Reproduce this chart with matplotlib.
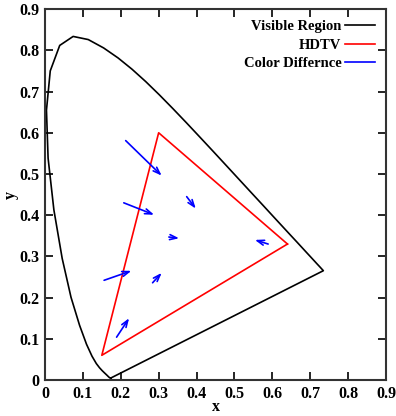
import matplotlib
matplotlib.use("Agg")
import matplotlib.pyplot as plt

plt.rcParams['font.family'] = ['Liberation Serif', 'DejaVu Serif']
plt.rcParams['font.weight'] = 'bold'

# CIE 1931 spectral locus (380-700 nm, 5 nm)
locus_x = [0.1741, 0.1740, 0.1738, 0.1736, 0.1733, 0.1730, 0.1726, 0.1721, 0.1714,
           0.1703, 0.1689, 0.1669, 0.1644, 0.1611, 0.1566, 0.1510, 0.1440, 0.1355,
           0.1241, 0.1096, 0.0913, 0.0687, 0.0454, 0.0235, 0.0082, 0.0039, 0.0139,
           0.0389, 0.0743, 0.1142, 0.1547, 0.1929, 0.2296, 0.2658, 0.3016, 0.3373,
           0.3731, 0.4087, 0.4441, 0.4788, 0.5125, 0.5448, 0.5752, 0.6029, 0.6270,
           0.6482, 0.6658, 0.6801, 0.6915, 0.7006, 0.7079, 0.7140, 0.7190, 0.7230,
           0.7260, 0.7283, 0.7300, 0.7311, 0.7320, 0.7327, 0.7334, 0.7340, 0.7344,
           0.7346, 0.7347]
locus_y = [0.0050, 0.0050, 0.0049, 0.0049, 0.0048, 0.0048, 0.0048, 0.0048, 0.0051,
           0.0058, 0.0069, 0.0086, 0.0109, 0.0138, 0.0177, 0.0227, 0.0297, 0.0399,
           0.0578, 0.0868, 0.1327, 0.2007, 0.2950, 0.4127, 0.5384, 0.6548, 0.7502,
           0.8120, 0.8338, 0.8262, 0.8059, 0.7816, 0.7543, 0.7243, 0.6923, 0.6589,
           0.6245, 0.5896, 0.5547, 0.5202, 0.4866, 0.4544, 0.4242, 0.3965, 0.3725,
           0.3514, 0.3340, 0.3197, 0.3083, 0.2993, 0.2920, 0.2859, 0.2809, 0.2770,
           0.2740, 0.2717, 0.2700, 0.2689, 0.2680, 0.2673, 0.2666, 0.2660, 0.2656,
           0.2654, 0.2653]

# HDTV primaries (R, G, B)
hdtv_x = [0.64, 0.30, 0.15]
hdtv_y = [0.33, 0.60, 0.06]

# color difference arrows: start -> end
arr_x0 = [0.213, 0.208, 0.374, 0.327, 0.156, 0.284, 0.189, 0.589]
arr_y0 = [0.581, 0.430, 0.445, 0.347, 0.242, 0.236, 0.104, 0.330]
arr_x1 = [0.308, 0.288, 0.398, 0.354, 0.228, 0.308, 0.222, 0.554]
arr_y1 = [0.496, 0.401, 0.416, 0.344, 0.265, 0.260, 0.150, 0.340]

fig = plt.figure(figsize=(3.96, 4.16), dpi=100)
ax = fig.add_axes([0.1136, 0.0865, 0.8611, 0.8915])

ax.plot(locus_x + [locus_x[0]], locus_y + [locus_y[0]], color='black', lw=1.2,
        label='Visible Region')
ax.plot(hdtv_x + [hdtv_x[0]], hdtv_y + [hdtv_y[0]], color='red', lw=1.2, label='HDTV')
ax.plot([], [], color='blue', lw=1.2, label='Color Differnce')

for x0, y0, x1, y1 in zip(arr_x0, arr_y0, arr_x1, arr_y1):
    ax.annotate('', xy=(x1, y1), xytext=(x0, y0),
                arrowprops=dict(arrowstyle='->,head_length=0.5,head_width=0.18',
                                color='blue', lw=1.2, shrinkA=0, shrinkB=0))

ax.set_xlim(0, 0.9)
ax.set_ylim(0, 0.9)
ticks = [0, 0.1, 0.2, 0.3, 0.4, 0.5, 0.6, 0.7, 0.8, 0.9]
ticklabels = ['0', '0.1', '0.2', '0.3', '0.4', '0.5', '0.6', '0.7', '0.8', '0.9']
ax.set_xticks(ticks)
ax.set_xticklabels(ticklabels)
ax.set_yticks(ticks)
ax.set_yticklabels(ticklabels)
ax.tick_params(direction='in', top=True, right=True, length=6, width=1.2,
               labelsize=11.5, pad=4)
for s in ax.spines.values():
    s.set_linewidth(1.5)
    s.set_color('#333333')

ax.set_xlabel('x', fontsize=11.5, fontweight='bold', labelpad=-2)
ax.set_ylabel('y', fontsize=11.5, fontweight='bold', labelpad=0)

ax.legend(loc='upper right', frameon=False, markerfirst=False, fontsize=10.5,
          handlelength=2.05, handletextpad=0.25, labelspacing=0.35,
          borderpad=0, borderaxespad=0, bbox_to_anchor=(0.968, 0.970))

fig.savefig('out.png', dpi=100)
